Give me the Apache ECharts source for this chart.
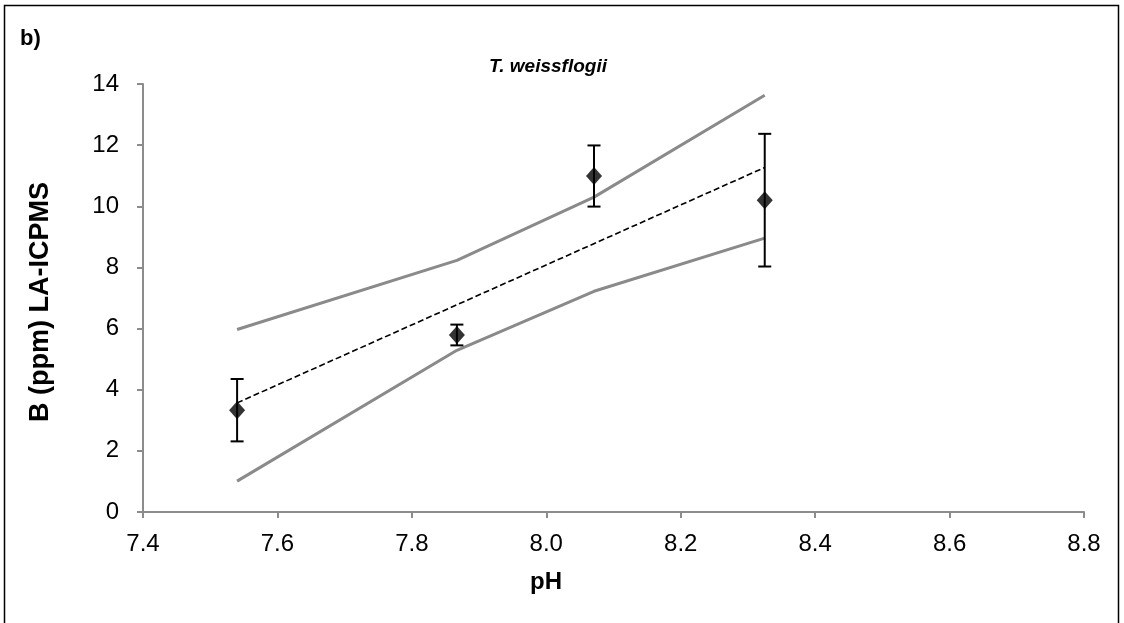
<!DOCTYPE html>
<html>
<head>
<meta charset="utf-8">
<title>T. weissflogii — B vs pH</title>
<script src="https://cdn.jsdelivr.net/npm/echarts@6/dist/echarts.min.js"></script>
<style>
  html, body { margin: 0; padding: 0; background: #fff; }
  #chart { width: 1124px; height: 623px; }
</style>
</head>
<body>
<div id="chart"></div>
<script>
// Measured pH of each culture and mean boron content (ppm, LA-ICPMS)
const ph = [7.54, 7.867, 8.071, 8.325];
const boron = [3.33, 5.79, 10.99, 10.20];
const boronErr = [1.02, 0.34, 1.00, 2.17];

// Envelope lines (upper / lower bound at each pH)
const upperBound = [5.97, 8.23, 10.30, 13.63];
const lowerBound = [1.01, 5.29, 7.22, 8.96];

// Linear fit end points
const fitPh = [7.54, 8.325];
const fitB = [3.57, 11.27];

// Axis ticks
const xTicks = [7.4, 7.6, 7.8, 8.0, 8.2, 8.4, 8.6, 8.8];
const yTicks = [0, 2, 4, 6, 8, 10, 12, 14];

const FONT = "'Liberation Sans', Arial, sans-serif";
const AXIS_GREY = '#8c8c8c';
const BAND_GREY = '#8a8a8a';

const zip = (xs, ys) => xs.map((x, i) => [x, ys[i]]);

const chart = echarts.init(document.getElementById('chart'), null, { renderer: 'canvas' });

chart.setOption({
  animation: false,
  backgroundColor: '#ffffff',
  grid: { left: 143, right: 40, top: 84, bottom: 111, containLabel: false },
  xAxis: {
    type: 'value',
    min: xTicks[0], max: xTicks[xTicks.length - 1], interval: 0.2,
    axisLine: { show: true, onZero: false, lineStyle: { color: AXIS_GREY, width: 2 } },
    axisTick: { show: true, length: 6, inside: false, lineStyle: { color: AXIS_GREY, width: 2 } },
    splitLine: { show: false },
    axisLabel: { color: '#000', fontFamily: FONT, fontSize: 24, margin: 20,
                 formatter: v => v.toFixed(1) }
  },
  yAxis: {
    type: 'value',
    min: yTicks[0], max: yTicks[yTicks.length - 1], interval: 2,
    axisLine: { show: true, lineStyle: { color: AXIS_GREY, width: 2 } },
    axisTick: { show: true, length: 6, lineStyle: { color: AXIS_GREY, width: 2 } },
    splitLine: { show: false },
    axisLabel: { color: '#000', fontFamily: FONT, fontSize: 24, margin: 24 }
  },
  graphic: [
    { type: 'rect', silent: true, z: 100,
      shape: { x: 4.5, y: 5.5, width: 1114, height: 640 },
      style: { fill: 'none', stroke: '#000', lineWidth: 1.5 } },
    { type: 'text', left: 20, top: 28, z: 100,
      style: { text: 'b)', font: `bold 22px ${FONT}`, fill: '#000' } },
    { type: 'text', x: 548, y: 67, z: 100,
      style: { text: 'T. weissflogii', font: `italic bold 19px ${FONT}`, fill: '#000',
               textAlign: 'center', textVerticalAlign: 'middle' } },
    { type: 'text', x: 546, y: 582, z: 100,
      style: { text: 'pH', font: `bold 24px ${FONT}`, fill: '#000',
               textAlign: 'center', textVerticalAlign: 'middle' } },
    { type: 'text', x: 41, y: 302, rotation: Math.PI / 2, z: 100,
      style: { text: 'B (ppm) LA-ICPMS', font: `bold 27px ${FONT}`, fill: '#000',
               textAlign: 'center', textVerticalAlign: 'middle' } }
  ],
  series: [
    { type: 'line', name: 'upper', data: zip(ph, upperBound), symbol: 'none',
      lineStyle: { color: BAND_GREY, width: 3 }, z: 2 },
    { type: 'line', name: 'lower', data: zip(ph, lowerBound), symbol: 'none',
      lineStyle: { color: BAND_GREY, width: 3 }, z: 2 },
    { type: 'line', name: 'fit', data: zip(fitPh, fitB), symbol: 'none',
      lineStyle: { color: '#000', width: 1.6, type: [6, 3] }, z: 3 },
    {
      type: 'custom', name: 'error',
      data: ph.map((x, i) => [x, boron[i] - boronErr[i], boron[i] + boronErr[i]]),
      renderItem: (params, api) => {
        const lo = api.coord([api.value(0), api.value(1)]);
        const hi = api.coord([api.value(0), api.value(2)]);
        const cap = 6.5;
        const st = { stroke: '#000', lineWidth: 2 };
        return {
          type: 'group',
          children: [
            { type: 'line', shape: { x1: lo[0], y1: lo[1], x2: hi[0], y2: hi[1] }, style: st },
            { type: 'line', shape: { x1: lo[0] - cap, y1: lo[1], x2: lo[0] + cap, y2: lo[1] }, style: st },
            { type: 'line', shape: { x1: hi[0] - cap, y1: hi[1], x2: hi[0] + cap, y2: hi[1] }, style: st }
          ]
        };
      },
      z: 4
    },
    { type: 'scatter', name: 'B', data: zip(ph, boron), symbol: 'diamond',
      symbolSize: [16, 18], itemStyle: { color: '#000' }, z: 5 }
  ]
});
</script>
</body>
</html>
